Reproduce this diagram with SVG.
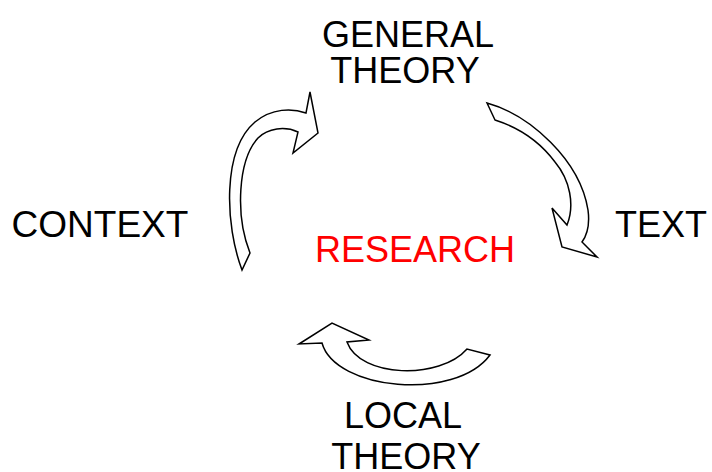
<svg xmlns="http://www.w3.org/2000/svg" width="712" height="472" viewBox="0 0 712 472">
<style>
.t{font-family:"Liberation Sans",Arial,sans-serif;font-size:36px;fill:#000;text-anchor:middle}
.r{fill:#ff0000}
.a{fill:#fff;stroke:#000;stroke-width:1.5;stroke-linejoin:miter}
</style>
<rect width="712" height="472" fill="#fff"/>
<g id="general-theory"><text class="t" x="408" y="47">GENERAL</text><text class="t" x="405" y="83">THEORY</text></g>
<g id="context"><text class="t" x="100" y="237" style="font-size:37px">CONTEXT</text></g>
<g id="text"><text class="t" x="661" y="237">TEXT</text></g>
<g id="research"><text class="t r" x="415" y="262">RESEARCH</text></g>
<g id="local-theory"><text class="t" x="403" y="428">LOCAL</text><text class="t" x="406" y="469">THEORY</text></g>
<g id="connectors">
<path class="a" d="M242,270 C225,225 222,150 255,122 C272,108 292,108 306,113 L310,92 L318,133 L293,153 L298,132 C285,126 268,128 258,138 C238,160 235,215 250,253 Z"/>
<path class="a" d="M487,103 C530,115 580,160 588,210 C590,225 587,235 582,242 L597,257 L562,247 L552,208 L567,225 C575,205 570,180 555,162 C540,142 520,128 495,120 Z"/>
<path class="a" d="M322,343 C335,390 455,402 490,355 L467,349 C440,380 360,378 347,342 L369,340 L332,323 L299,344 Z"/>
</g>
</svg>
